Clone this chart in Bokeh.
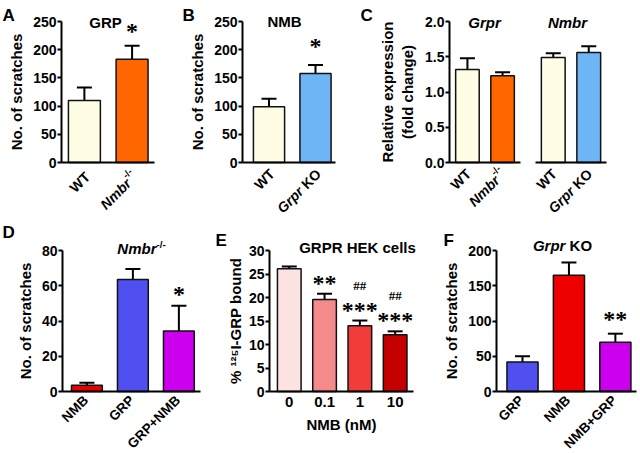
from math import pi
from bokeh.plotting import figure
from bokeh.layouts import row, column
from bokeh.models import (Range1d, FixedTicker, Label, LabelSet, Whisker, TeeHead,
                          ColumnDataSource, PrintfTickFormatter)
from bokeh.embed import file_html
from bokeh.resources import INLINE

# ---------------- data ----------------
A_labels = ["WT", "Nmbr-/-"]
A_values = [110, 183]
A_errors = [23, 24]
A_sig = ["", "*"]

B_labels = ["WT", "Grpr KO"]
B_values = [99, 158]
B_errors = [14, 15]
B_sig = ["", "*"]

C1_labels = ["WT", "Nmbr-/-"]
C1_values = [1.32, 1.23]
C1_errors = [0.16, 0.05]

C2_labels = ["WT", "Grpr KO"]
C2_values = [1.49, 1.56]
C2_errors = [0.06, 0.09]

D_labels = ["NMB", "GRP", "GRP+NMB"]
D_values = [3.5, 63.5, 34.3]
D_errors = [1.5, 6.0, 14.4]
D_sig = ["", "", "*"]

E_labels = ["0", "0.1", "1", "10"]
E_values = [26.1, 19.6, 14.0, 12.1]
E_errors = [0.5, 1.2, 1.1, 0.7]
E_sig = ["", "**", "***", "***"]
E_hash = ["", "", "##", "##"]

F_labels = ["GRP", "NMB", "NMB+GRP"]
F_values = [42, 165, 70]
F_errors = [8, 18, 12]
F_sig = ["", "", "**"]

# ---------------- styles ----------------
FONT = "Liberation Sans"
CREAM = "#FFFDE3"
ORANGE = "#FF6600"
LBLUE = "#6DB5F5"
RED = "#E80000"
BLUE = "#5050F0"
PURPLE = "#CC00EE"
A_colors = [CREAM, ORANGE]
B_colors = [CREAM, LBLUE]
C1_colors = [CREAM, ORANGE]
C2_colors = [CREAM, LBLUE]
D_colors = [RED, BLUE, PURPLE]
E_colors = ["#FDE2E2", "#F48A8A", "#F23C3C", "#C40000"]
F_colors = [BLUE, "#EE0000", PURPLE]
BAR_W = 0.67

CW = {' ': .278, '-': .333, '/': .278, 'K': .722, 'O': .778, 'N': .722, 'm': .889,
      'b': .611, 'r': .389, 'G': .778, 'p': .611, 'W': .944, 'T': .611, 'R': .722,
      'P': .667, 'M': .833, 'B': .722, '+': .584, 'H': .722, 'E': .667, 'c': .556,
      'e': .556, 'l': .278, 's': .556}


def tw(s, size):
    return sum(CW.get(c, 0.6) for c in s) * size


def parts_of(s):
    # (text, style, superscript, gap_before_em)
    if s.endswith("-/-"):
        return [(s[:-3], "bold italic", False, 0.0), ("-/-", "bold", True, 0.0)]
    if s.startswith(("Grpr", "Nmbr")) and " " in s:
        g, rest = s.split(" ", 1)
        return [(g, "bold italic", False, 0.0), (rest, "bold", False, 0.278)]
    if s in ("Grpr", "Nmbr"):
        return [(s, "bold italic", False, 0.0)]
    return [(s, "bold", False, 0.0)]


class Panel:
    """A figure whose frame fills the whole canvas; the axes are pinned
    (fixed_location + bounds) so that texts around them are never clipped."""

    def __init__(self, x0, y0, w, h, fl, fr, ft, fb, xr, ymax, show_y=True):
        a, b = xr
        ux = (fr - fl) / (b - a)
        uy = (fb - ft) / ymax
        X0 = a - (fl - x0) / ux
        X1 = b + (x0 + w - fr) / ux
        Y0 = -(y0 + h - fb) / uy
        Y1 = ymax + (ft - y0) / uy
        self.x0, self.ybot = x0, y0 + h
        self.fl, self.fr, self.fb = fl, fr, fb
        self.xr = xr
        p = figure(width=w, height=h, x_range=Range1d(X0, X1), y_range=Range1d(Y0, Y1),
                   output_backend="svg", toolbar_location=None, title_location=None,
                   y_axis_location="left" if show_y else None,
                   min_border_left=0, min_border_right=0, min_border_top=0,
                   min_border_bottom=0,
                   background_fill_color="white", border_fill_color="white")
        p.outline_line_color = None
        p.xgrid.visible = False
        p.ygrid.visible = False
        ax = p.xaxis[0]
        ax.fixed_location = 0
        ax.bounds = (a, b)
        ax.ticker = FixedTicker(ticks=[])
        ax.axis_line_width = 2
        ax.axis_line_color = "black"
        ax.major_tick_line_color = None
        ax.minor_tick_line_color = None
        if show_y:
            ay = p.yaxis[0]
            ay.fixed_location = a
            ay.bounds = (0, ymax)
        self.p = p

    def cx(self, i):
        a, b = self.xr
        return self.fl + (i - a) / (b - a) * (self.fr - self.fl)

    def label(self, ix, iy, text, size, style="bold", align="left", baseline="alphabetic",
              angle=0.0):
        self.p.add_layout(Label(x=ix - self.x0, y=self.ybot - iy, x_units="screen",
                                y_units="screen", text=text, angle=angle, text_align=align,
                                text_baseline=baseline, text_font=FONT,
                                text_font_size=f"{size:.1f}px", text_font_style=style,
                                text_color="black"))

    def title(self, cx, base, s, size=15):
        parts = parts_of(s)
        widths = []
        total = 0.0
        for txt, style, sup, gap in parts:
            fs = size * 0.65 if sup else size
            w = tw(txt, fs) + gap * size
            widths.append(w)
            total += w
        cur = cx - total / 2
        for (txt, style, sup, gap), w in zip(parts, widths):
            fs = size * 0.65 if sup else size
            rz = size * 0.3 if sup else 0.0
            self.label(cur + gap * size, base - rz, txt, fs, style)
            cur += w

    def xlabels(self, labels, dx, dy, size=14):
        c = 0.7071
        for i, s in enumerate(labels):
            ax_, ay_ = self.cx(i) + dx, self.fb + dy
            after = 0.0
            for txt, style, sup, gap in reversed(parts_of(s)):
                fs = size * 0.7 if sup else size
                rz = size * 0.45 if sup else 0.0
                ix = ax_ - after * c - rz * c
                iy = ay_ + after * c - rz * c
                self.label(ix, iy, txt, fs, style, align="right", baseline="middle",
                           angle=pi / 4)
                after += tw(txt, fs) + gap * size

    def letter(self, ix, base, s):
        self.label(ix, base, s, 17)


def style_y(p, ticks, label, standoff=5, fmt=None):
    ax = p.yaxis[0]
    ax.ticker = FixedTicker(ticks=ticks)
    if fmt:
        ax.formatter = PrintfTickFormatter(format=fmt)
    ax.axis_line_width = 2
    ax.axis_line_color = "black"
    ax.major_tick_line_width = 2
    ax.major_tick_line_color = "black"
    ax.major_tick_out = 4
    ax.major_tick_in = 0
    ax.minor_tick_line_color = None
    ax.major_label_text_font = FONT
    ax.major_label_text_font_size = "14px"
    ax.major_label_text_font_style = "bold"
    ax.major_label_text_color = "black"
    ax.major_label_standoff = 1
    ax.axis_label = label
    ax.axis_label_text_font = FONT
    ax.axis_label_text_font_size = "15px"
    ax.axis_label_text_font_style = "bold"
    ax.axis_label_text_color = "black"
    ax.axis_label_standoff = standoff


def bars(p, values, errors, colors, sig=None, star_dy=6):
    xs = list(range(len(values)))
    src = ColumnDataSource(dict(x=xs, top=values, hi=[v + e for v, e in zip(values, errors)],
                                color=colors, sig=sig if sig else [""] * len(values)))
    p.vbar(x="x", top="top", bottom=0, width=BAR_W, source=src, fill_color="color",
           line_color="#111111", line_width=1.5)
    p.add_layout(Whisker(source=src, base="x", upper="hi", lower="top", line_width=2,
                         line_color="black",
                         upper_head=TeeHead(size=15, line_width=2, line_color="black"),
                         lower_head=None))
    if sig:
        p.add_layout(LabelSet(x="x", y="hi", text="sig", source=src, text_align="center",
                              text_baseline="alphabetic", y_offset=star_dy, text_font=FONT,
                              text_font_size="24px", text_font_style="bold",
                              text_color="black"))
    return src


TOP_Y, TOP_H = 0, 217
BOT_Y, BOT_H = 217, 235

# ---- A ----
A = Panel(0, TOP_Y, 180, TOP_H, 61, 154, 21, 162, (-0.48, 1.47), 250)
style_y(A.p, [0, 50, 100, 150, 200, 250], "No. of scratches")
bars(A.p, A_values, A_errors, A_colors, A_sig, star_dy=7)
A.xlabels(A_labels, 3, 12)
A.title(105, 21.5, "GRP")
A.letter(2, 15, "A")

# ---- B ----
B = Panel(180, TOP_Y, 180, TOP_H, 242, 335, 21, 162, (-0.57, 1.43), 250)
style_y(B.p, [0, 50, 100, 150, 200, 250], "No. of scratches")
bars(B.p, B_values, B_errors, B_colors, B_sig, star_dy=11)
B.xlabels(B_labels, 3, 9)
B.title(284, 21, "NMB")
B.letter(182, 15, "B")

# ---- C ----
C1 = Panel(360, TOP_Y, 167, TOP_H, 449, 520, 21, 162, (-0.51, 1.51), 2.0)
style_y(C1.p, [0, 0.5, 1.0, 1.5, 2.0], "Relative expression\n(fold change)", standoff=6,
        fmt="%.1f")
bars(C1.p, C1_values, C1_errors, C1_colors)
C1.xlabels(C1_labels, 1, 9)
C1.title(484, 22, "Grpr")
C1.letter(360, 15, "C")

C2 = Panel(527, TOP_Y, 112, TOP_H, 535, 606, 21, 162, (-0.5, 1.5), 2.0, show_y=False)
bars(C2.p, C2_values, C2_errors, C2_colors)
C2.xlabels(C2_labels, 1, 9)
C2.title(567, 22, "Nmbr")

# ---- D ----
D = Panel(0, BOT_Y, 210, BOT_H, 62, 200, 250, 391, (-0.53, 2.47), 80)
style_y(D.p, [0, 20, 40, 60, 80], "No. of scratches")
bars(D.p, D_values, D_errors, D_colors, D_sig, star_dy=4)
D.xlabels(D_labels, -1, 6.5, size=13.5)
D.title(141, 248, "Nmbr-/-")
D.letter(2, 232, "D")

# ---- E ----
E = Panel(210, BOT_Y, 230, BOT_H, 269, 413, 250, 391, (-0.56, 3.52), 30)
style_y(E.p, [0, 5, 10, 15, 20, 25, 30], "% \u00b9\u00b2\u2075I-GRP bound", standoff=2)
srcE = bars(E.p, E_values, E_errors, E_colors, E_sig, star_dy=3)
srcE.data["hash"] = E_hash
E.p.add_layout(LabelSet(x="x", y="hi", text="hash", source=srcE, text_align="center",
                        text_baseline="alphabetic", y_offset=31, text_font=FONT,
                        text_font_size="13px", text_font_style="bold", text_color="black"))
axE = E.p.xaxis[0]
axE.ticker = FixedTicker(ticks=list(range(len(E_labels))))
axE.major_label_overrides = {i: s for i, s in enumerate(E_labels)}
axE.major_label_text_font = FONT
axE.major_label_text_font_size = "15px"
axE.major_label_text_font_style = "bold"
axE.major_label_text_color = "black"
axE.major_label_standoff = 5
axE.major_tick_out = 0
axE.axis_label = "NMB (nM)"
axE.axis_label_text_font = FONT
axE.axis_label_text_font_size = "15px"
axE.axis_label_text_font_style = "bold"
axE.axis_label_text_color = "black"
axE.axis_label_standoff = 6
E.title(357, 246.5, "GRPR HEK cells")
E.letter(215, 240, "E")

# ---- F ----
F = Panel(440, BOT_Y, 199, BOT_H, 496, 636, 250, 391, (-0.56, 2.455), 200)
style_y(F.p, [0, 50, 100, 150, 200], "No. of scratches")
bars(F.p, F_values, F_errors, F_colors, F_sig, star_dy=7)
F.xlabels(F_labels, -1, 6.5, size=13.5)
F.title(562, 245, "Grpr KO")
F.letter(443, 240, "F")

layout = column(row(A.p, B.p, C1.p, C2.p), row(D.p, E.p, F.p))
open("out.html", "w").write(file_html(layout, INLINE))
